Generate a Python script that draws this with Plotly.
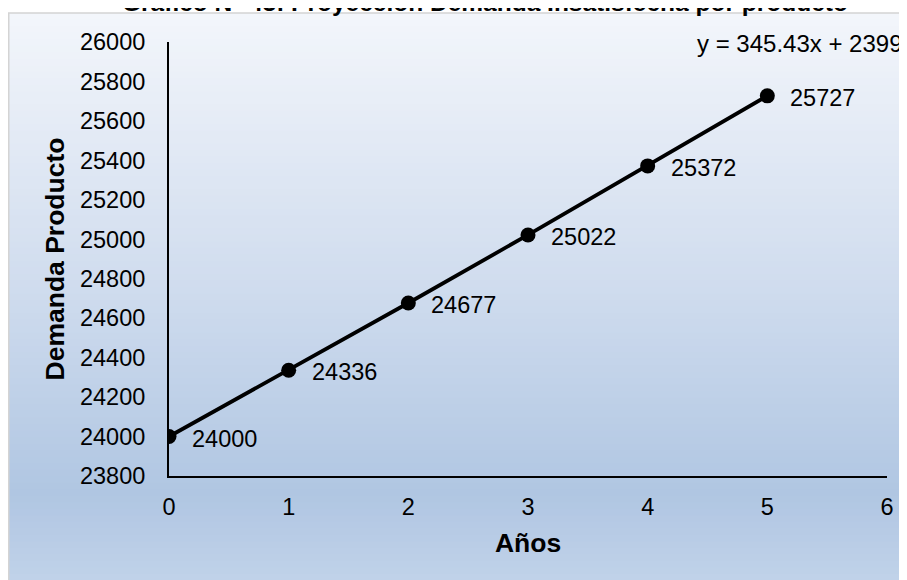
import plotly.graph_objects as go

years = [0, 1, 2, 3, 4, 5]
demand = [24000, 24336, 24677, 25022, 25372, 25727]
y_ticks = [23800, 24000, 24200, 24400, 24600, 24800, 25000, 25200, 25400, 25600, 25800, 26000]
x_ticks = [0, 1, 2, 3, 4, 5, 6]
title_text = "Gráfico N° 43: Proyección Demanda Insatisfecha por producto"
equation_text = "y = 345.43x + 23992"

FONT = "Liberation Sans, Arial, sans-serif"
OFF = 8  # page body margin offset

fig = go.Figure()
fig.add_trace(go.Scatter(
    x=years, y=demand, mode="lines+markers",
    line=dict(color="black", width=3.8),
    marker=dict(color="black", size=15),
    hoverinfo="x+y", showlegend=False,
))

# plot area in page pixels (reference), converted to figure pixels
L, R, T, B = 169 - OFF, 887 - OFF, 42 - OFF, 476 - OFF
W, H = R - L, B - T
def px_x(p):
    return (p - OFF - L) / W
def px_y(p):
    return (B - (p - OFF)) / H

box_top, box_bot, box_left = 13, 600, 8
stops = [(0.0, (243, 246, 251)), (0.5, (205, 218, 237)), (0.82, (176, 198, 226)), (1.0, (196, 213, 235))]
def col(t):
    for i in range(len(stops) - 1):
        t0, c0 = stops[i]
        t1, c1 = stops[i + 1]
        if t <= t1:
            f = (t - t0) / (t1 - t0)
            return "rgb(%d,%d,%d)" % tuple(round(c0[k] + (c1[k] - c0[k]) * f) for k in range(3))
    return "rgb(%d,%d,%d)" % stops[-1][1]

shapes = []
n = 90
for i in range(n):
    p0 = box_top + (box_bot - box_top) * i / n
    p1 = box_top + (box_bot - box_top) * (i + 1) / n + 0.8
    shapes.append(dict(type="rect", xref="paper", yref="paper",
                       x0=px_x(box_left), x1=px_x(930), y0=px_y(min(p1, box_bot)), y1=px_y(p0),
                       fillcolor=col((i + 0.5) / n), line=dict(width=0), layer="below"))
shapes.append(dict(type="rect", xref="paper", yref="paper",
                   x0=px_x(box_left + 0.75), x1=px_x(940), y0=px_y(box_bot + 5), y1=px_y(box_top),
                   fillcolor="rgba(0,0,0,0)", line=dict(color="#d4d4d4", width=1.5), layer="below"))

annotations = []
for xv, yv in zip(years, demand):
    annotations.append(dict(x=xv, y=yv, xref="x", yref="y", text=str(yv),
                            showarrow=False, xanchor="left", yanchor="middle",
                            xshift=21, yshift=-2, font=dict(family=FONT, size=23.5, color="black")))
annotations.append(dict(x=px_x(695), y=px_y(44), xref="paper", yref="paper", text=equation_text,
                        showarrow=False, xanchor="left", yanchor="middle",
                        font=dict(family=FONT, size=24, color="black")))
annotations.append(dict(x=px_x(485), y=px_y(3), xref="paper", yref="paper", text="<b>" + title_text + "</b>",
                        showarrow=False, xanchor="center", yanchor="middle",
                        font=dict(family=FONT, size=24.5, color="black")))

fig.update_layout(
    width=907, height=580,
    margin=dict(l=L, r=907 - R, t=T, b=580 - B, pad=0),
    paper_bgcolor="white", plot_bgcolor="rgba(0,0,0,0)",
    shapes=shapes, annotations=annotations,
    font=dict(family=FONT, color="black"),
    xaxis=dict(range=[0, 6], tickvals=x_ticks, ticktext=[str(v) for v in x_ticks],
               showgrid=False, zeroline=False, showline=True, linecolor="black", linewidth=2,
               ticks="outside", ticklen=9, tickcolor="rgba(0,0,0,0)",
               tickfont=dict(family=FONT, size=23.5),
               title=dict(text="<b>Años</b>", font=dict(family=FONT, size=26.5), standoff=14)),
    yaxis=dict(range=[23800, 26000], tickvals=y_ticks, ticktext=[str(v) for v in y_ticks],
               showgrid=False, zeroline=False, showline=True, linecolor="black", linewidth=2,
               ticks="outside", ticklen=17, tickcolor="rgba(0,0,0,0)",
               tickfont=dict(family=FONT, size=23.5),
               title=dict(text="<b>Demanda Producto</b>", font=dict(family=FONT, size=26.5), standoff=8)),
)
fig.write_html("out.html")
